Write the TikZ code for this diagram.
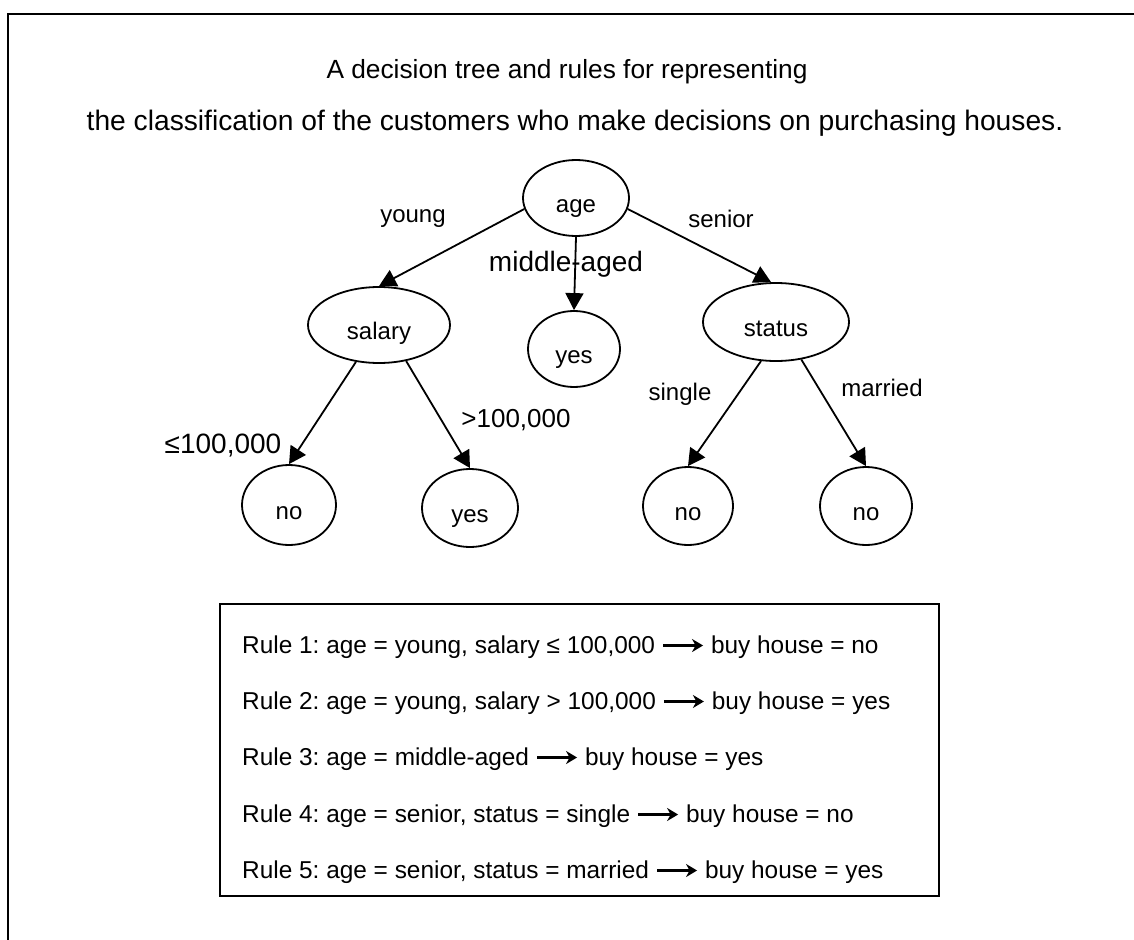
\documentclass[tikz,border=0pt]{standalone}
\usepackage{fontspec}
\setmainfont{Liberation Sans}
\usetikzlibrary{arrows.meta,shapes.geometric}
\newcommand{\rulearrow}{\tikz[baseline=-7.5pt]\draw[line width=2.4pt,-{Stealth[length=11pt,width=13pt,inset=3.5pt]}] (0pt,0pt) -- (40pt,0pt);}
\frenchspacing
\begin{document}
\begin{tikzpicture}[x=1pt,y=-1pt,
  tnode/.style={draw, ellipse, line width=1.8pt, inner sep=0pt, font=\fontsize{24}{28}\selectfont},
  lbl/.style={inner sep=0pt, font=\fontsize{24}{28}\selectfont},
  biglbl/.style={inner sep=0pt, font=\fontsize{28}{32}\selectfont},
  ttl/.style={inner sep=0pt, anchor=base},
  rulestyle/.style={inner sep=0pt, anchor=base west, font=\fontsize{24.4}{28}\selectfont},
  conn/.style={line width=1.8pt, arrows={-Triangle[length=17pt,width=18pt]}}]
\useasboundingbox (0,0) rectangle (1134,939);
% outer frame (only top and left edges visible)
\draw[line width=2.6pt] (8,950) -- (8,14) -- (1145,14);
% title
\node[ttl, font=\fontsize{26.3}{30}\selectfont] (t1) at (567,79) {A decision tree and rules for representing};
\node[ttl, font=\fontsize{28.2}{32}\selectfont] (t2) at (575,130) {the classification of the customers who make decisions on purchasing houses.};
% tree nodes
\node[tnode, minimum width=106pt, minimum height=76pt] (age) at (576,198) {\raisebox{-14pt}[0pt][0pt]{age}};
\node[tnode, minimum width=142pt, minimum height=76pt] (salary) at (379,325) {\raisebox{-14pt}[0pt][0pt]{salary}};
\node[tnode, minimum width=92pt, minimum height=76pt] (yesm) at (574,349) {\raisebox{-14pt}[0pt][0pt]{yes}};
\node[tnode, minimum width=146pt, minimum height=78pt] (status) at (776,322) {\raisebox{-14pt}[0pt][0pt]{status}};
\node[tnode, minimum width=94pt, minimum height=80pt] (no1) at (289,505) {\raisebox{-14pt}[0pt][0pt]{no}};
\node[tnode, minimum width=96pt, minimum height=78pt] (yes1) at (470,508) {\raisebox{-14pt}[0pt][0pt]{yes}};
\node[tnode, minimum width=90pt, minimum height=78pt] (no2) at (688,506) {\raisebox{-14pt}[0pt][0pt]{no}};
\node[tnode, minimum width=92pt, minimum height=78pt] (no3) at (866,506) {\raisebox{-14pt}[0pt][0pt]{no}};
% connectors
\draw[conn] (age.192) -- (salary.north);
\draw[conn] (age.south) -- (yesm.north);
\draw[conn] (age.-12) -- (status.97);
\draw[conn] (salary.238) -- (no1.north);
\draw[conn] (salary.-53) -- (yes1.north);
\draw[conn] (status.249) -- (no2.north);
\draw[conn] (status.-56) -- (no3.north);
% edge labels
\node[lbl] (lyoung) at (413,219) {young};
\node[lbl] (lsenior) at (721,219) {senior};
\node[biglbl] (lmid) at (566,264) {middle-aged};
\node[biglbl] (lle) at (223,446) {≤100,000};
\node[lbl, font=\fontsize{26}{30}\selectfont] (lgt) at (516,420) {>100,000};
\node[lbl] (lsingle) at (680,394) {single};
\node[lbl] (lmarried) at (882,388) {married};
% rules box
\draw[line width=2pt] (220,604) rectangle (939,896);
\node[rulestyle] (r1) at (242,653) {Rule 1: age = young, salary ≤ 100,000 \rulearrow{} buy house = no};
\node[rulestyle] (r2) at (242,709) {Rule 2: age = young, salary > 100,000 \rulearrow{} buy house = yes};
\node[rulestyle] (r3) at (242,765) {Rule 3: age = middle-aged \rulearrow{} buy house = yes};
\node[rulestyle] (r4) at (242,822) {Rule 4: age = senior, status = single \rulearrow{} buy house = no};
\node[rulestyle] (r5) at (242,878) {Rule 5: age = senior, status = married \rulearrow{} buy house = yes};
\end{tikzpicture}
\end{document}
